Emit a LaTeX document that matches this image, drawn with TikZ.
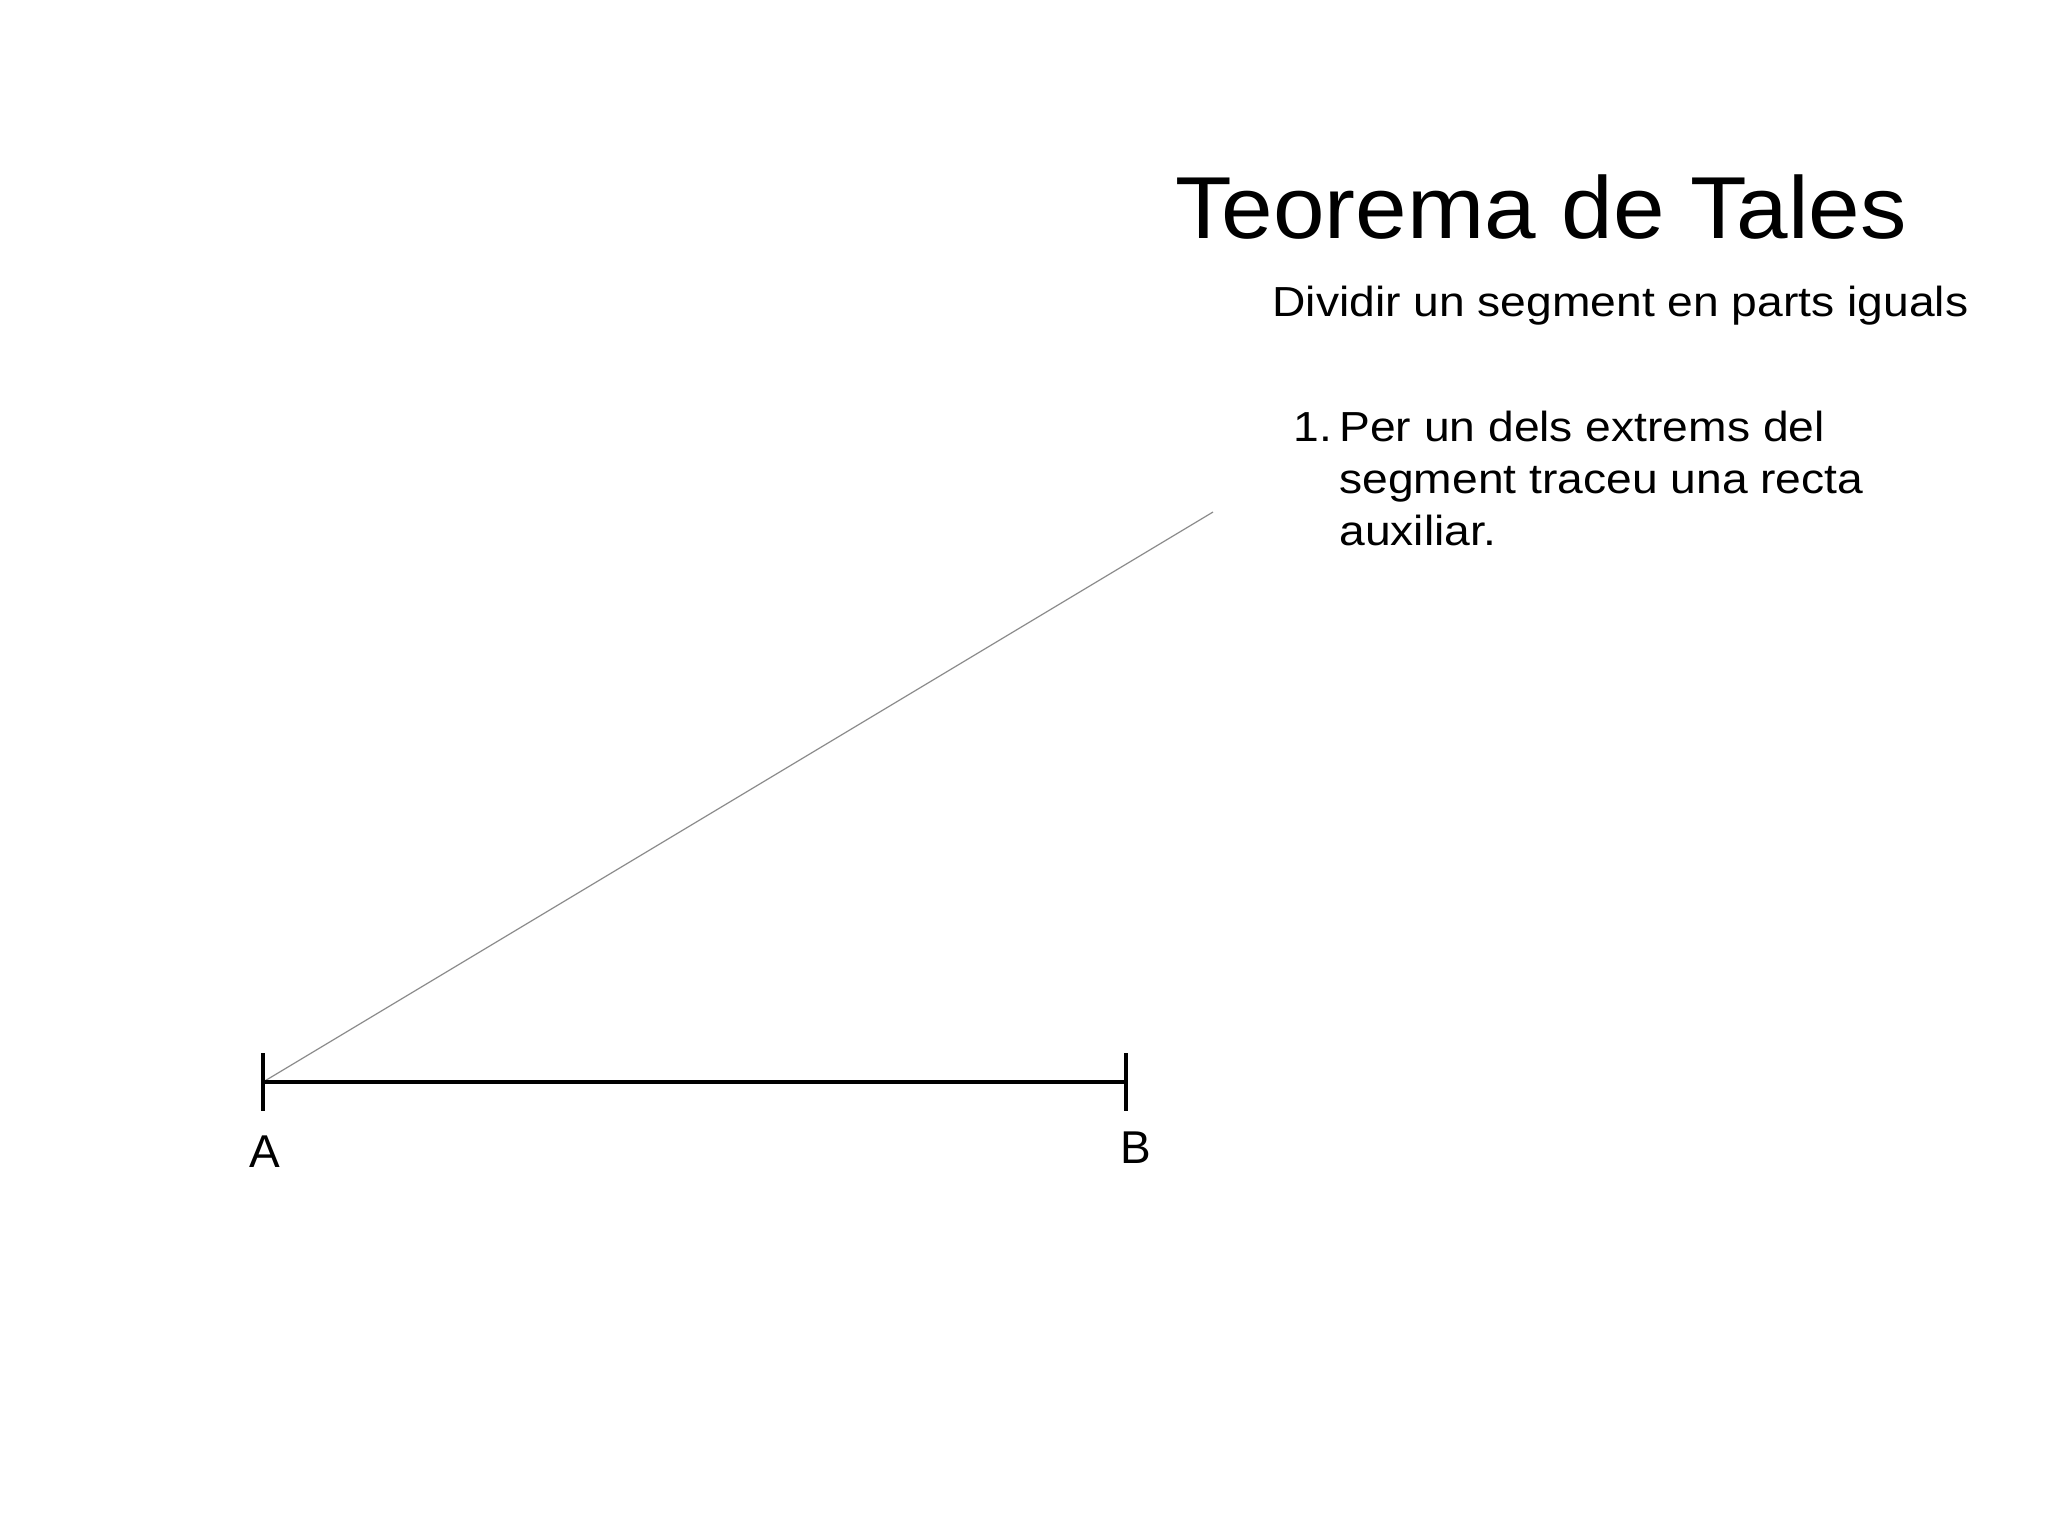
\documentclass[tikz,border=0pt]{standalone}
\usepackage{fontspec}
\usepackage{graphicx}
\setmainfont{Liberation Sans}
\newcommand{\wtitle}[1]{\scalebox{1.053}[1]{#1}}
\newcommand{\wtext}[1]{\scalebox{1.10}[1]{#1}}
\begin{document}
\begin{tikzpicture}[x=0.5pt,y=-0.5pt,
  txt/.style={inner sep=0pt,anchor=base west},
  seg/.style={line width=2pt},
  aux/.style={line width=0.6pt,draw=black!45}]
\useasboundingbox[fill=white] (0,0) rectangle (2048,1535);
\node[txt,font=\fontsize{44}{52}\selectfont] (title) at (1175,239) {\wtitle{Teorema de Tales}};
\node[txt,font=\fontsize{21}{25}\selectfont] (sub) at (1272,317) {\wtext{Dividir un segment en parts iguals}};
\node[txt,font=\fontsize{21}{25}\selectfont] (num) at (1293,441) {\wtext{1.}};
\node[txt,font=\fontsize{21}{25}\selectfont] (l1) at (1339,441) {\wtext{Per un dels extrems del}};
\node[txt,font=\fontsize{21}{25}\selectfont] (l2) at (1339,493) {\wtext{segment traceu una recta}};
\node[txt,font=\fontsize{21}{25}\selectfont] (l3) at (1339,545) {\wtext{auxiliar.}};
\coordinate (A) at (263,1082);
\coordinate (B) at (1126,1082);
\coordinate (At) at (263,1053);
\coordinate (Ab) at (263,1111);
\coordinate (Bt) at (1126,1053);
\coordinate (Bb) at (1126,1111);
\coordinate (E) at (1213,512);
\draw[aux] (A) -- (E);
\draw[seg] (A) -- (B);
\draw[seg] (At) -- (Ab);
\draw[seg] (Bt) -- (Bb);
\node[inner sep=0pt,anchor=base,font=\fontsize{23}{27}\selectfont] (la) at (265,1167) {A};
\node[inner sep=0pt,anchor=base,font=\fontsize{23}{27}\selectfont] (lb) at (1136,1163) {B};
\end{tikzpicture}
\end{document}
